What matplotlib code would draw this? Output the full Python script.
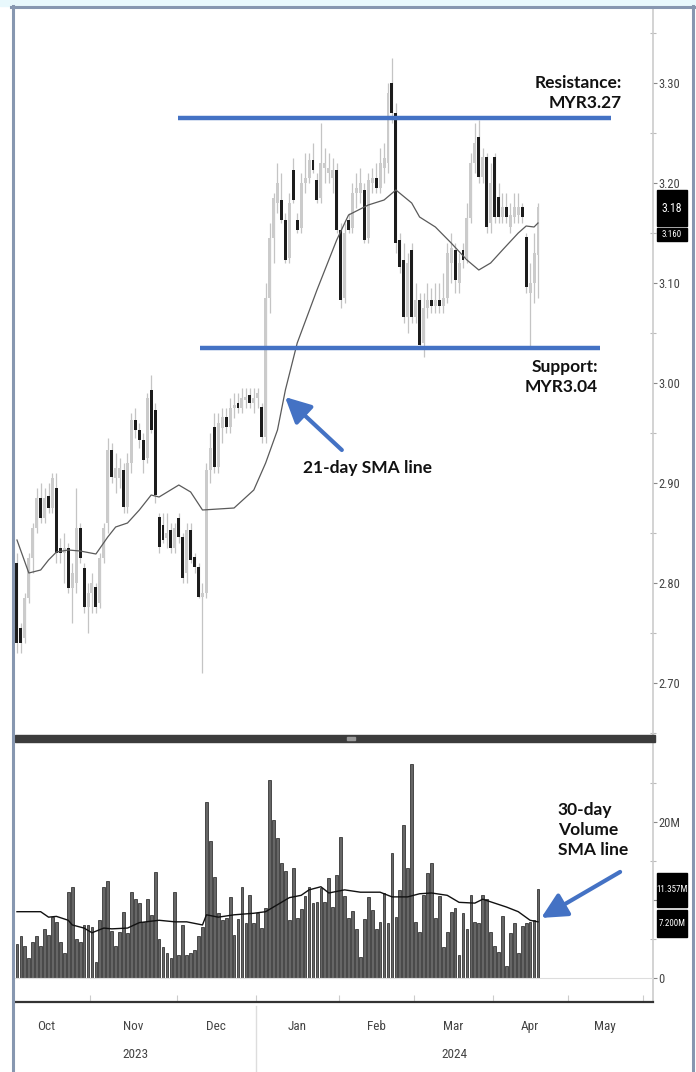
import matplotlib
matplotlib.use('Agg')
import matplotlib.pyplot as plt
from matplotlib import font_manager, transforms
from matplotlib.patches import Rectangle
from matplotlib.lines import Line2D
import numpy as np

# ---------------- data ----------------
opens = [2.82, 2.755, 2.745, 2.785, 2.825, 2.855, 2.885, 2.865, 2.887, 2.875,
         2.895, 2.835, 2.83, 2.835, 2.795, 2.80, 2.855, 2.815, 2.776, 2.79,
         2.796, 2.78, 2.825, 2.86, 2.933, 2.905, 2.905, 2.913, 2.876, 2.92,
         2.963, 2.953, 2.943, 2.925, 2.993, 2.973, 2.866, 2.858, 2.845, 2.853,
         2.835, 2.865, 2.846, 2.81, 2.853, 2.826, 2.816, 2.786, 2.79, 2.913,
         2.956, 2.916, 2.955, 2.966, 2.956, 2.975, 2.98, 2.975, 2.983, 2.988,
         2.98, 2.985, 2.976, 2.946, 3.085, 3.145, 3.18, 3.183, 3.163, 3.125,
         3.213, 3.163, 3.155, 3.20, 3.205, 3.223, 3.203, 3.185, 3.215, 3.21,
         3.205, 3.213, 3.153, 3.085, 3.163, 3.155, 3.19, 3.19, 3.193, 3.145,
         3.20, 3.205, 3.195, 3.215, 3.22, 3.30, 3.27, 3.143, 3.123, 3.066,
         3.133, 3.066, 3.083, 3.04, 3.075, 3.083, 3.077, 3.083, 3.077, 3.085,
         3.12, 3.133, 3.10, 3.133, 3.125, 3.165, 3.22, 3.246, 3.206, 3.226,
         3.16, 3.226, 3.186, 3.166, 3.176, 3.156, 3.166, 3.168, 3.176, 3.146,
         3.09, 3.10, 3.128]
highs = [2.83, 2.76, 2.79, 2.83, 2.86, 2.895, 2.90, 2.895, 2.90, 2.91,
         2.91, 2.845, 2.85, 2.84, 2.82, 2.895, 2.86, 2.82, 2.80, 2.81,
         2.80, 2.83, 2.86, 2.945, 2.94, 2.93, 2.925, 2.92, 2.93, 2.97,
         2.975, 2.96, 2.95, 2.99, 3.008, 2.98, 2.87, 2.87, 2.87, 2.86,
         2.86, 2.87, 2.85, 2.86, 2.86, 2.83, 2.82, 2.80, 2.92, 2.95,
         2.97, 2.97, 2.975, 2.975, 2.985, 2.99, 2.99, 2.995, 2.995, 2.995,
         2.995, 2.995, 2.98, 3.10, 3.16, 3.19, 3.22, 3.21, 3.17, 3.19,
         3.225, 3.17, 3.21, 3.23, 3.23, 3.24, 3.21, 3.26, 3.235, 3.23,
         3.225, 3.22, 3.16, 3.16, 3.17, 3.20, 3.21, 3.215, 3.20, 3.21,
         3.215, 3.22, 3.235, 3.24, 3.30, 3.325, 3.28, 3.15, 3.14, 3.13,
         3.14, 3.10, 3.09, 3.09, 3.10, 3.095, 3.10, 3.10, 3.11, 3.14,
         3.15, 3.14, 3.13, 3.14, 3.18, 3.23, 3.26, 3.263, 3.235, 3.23,
         3.22, 3.23, 3.20, 3.19, 3.19, 3.18, 3.19, 3.19, 3.18, 3.15,
         3.12, 3.15, 3.18]
lows = [2.73, 2.73, 2.74, 2.78, 2.81, 2.85, 2.86, 2.86, 2.87, 2.87,
        2.82, 2.82, 2.80, 2.79, 2.76, 2.79, 2.82, 2.77, 2.75, 2.77,
        2.77, 2.775, 2.82, 2.85, 2.90, 2.89, 2.895, 2.87, 2.87, 2.91,
        2.945, 2.935, 2.91, 2.92, 2.95, 2.88, 2.83, 2.84, 2.835, 2.83,
        2.83, 2.84, 2.80, 2.80, 2.82, 2.81, 2.785, 2.71, 2.785, 2.90,
        2.91, 2.91, 2.94, 2.95, 2.95, 2.965, 2.97, 2.97, 2.975, 2.975,
        2.97, 2.975, 2.94, 2.94, 3.07, 3.12, 3.17, 3.16, 3.12, 3.12,
        3.18, 3.15, 3.15, 3.19, 3.20, 3.21, 3.18, 3.18, 3.20, 3.20,
        3.19, 3.15, 3.075, 3.08, 3.15, 3.15, 3.175, 3.18, 3.14, 3.14,
        3.19, 3.19, 3.19, 3.20, 3.21, 3.26, 3.13, 3.11, 3.06, 3.05,
        3.06, 3.06, 3.035, 3.026, 3.065, 3.07, 3.07, 3.07, 3.07, 3.08,
        3.10, 3.09, 3.09, 3.115, 3.12, 3.16, 3.21, 3.20, 3.20, 3.15,
        3.15, 3.16, 3.16, 3.16, 3.16, 3.15, 3.16, 3.16, 3.16, 3.09,
        3.035, 3.08, 3.085]
closes = [2.74, 2.74, 2.785, 2.825, 2.855, 2.885, 2.865, 2.885, 2.875, 2.905,
          2.83, 2.83, 2.835, 2.795, 2.81, 2.855, 2.825, 2.776, 2.79, 2.80,
          2.776, 2.825, 2.855, 2.933, 2.906, 2.915, 2.915, 2.876, 2.92, 2.963,
          2.953, 2.943, 2.923, 2.985, 2.953, 2.888, 2.836, 2.843, 2.85, 2.835,
          2.855, 2.846, 2.805, 2.853, 2.823, 2.816, 2.786, 2.79, 2.913, 2.935,
          2.916, 2.96, 2.966, 2.956, 2.975, 2.978, 2.975, 2.985, 2.986, 2.98,
          2.985, 2.99, 2.946, 3.085, 3.145, 3.185, 3.20, 3.163, 3.123, 3.18,
          3.183, 3.153, 3.20, 3.205, 3.223, 3.213, 3.183, 3.22, 3.22, 3.215,
          3.213, 3.153, 3.083, 3.15, 3.153, 3.19, 3.195, 3.20, 3.143, 3.203,
          3.205, 3.195, 3.22, 3.225, 3.29, 3.27, 3.14, 3.116, 3.066, 3.12,
          3.066, 3.083, 3.038, 3.075, 3.083, 3.077, 3.083, 3.077, 3.085, 3.13,
          3.135, 3.103, 3.12, 3.123, 3.165, 3.22, 3.24, 3.206, 3.226, 3.156,
          3.20, 3.166, 3.166, 3.176, 3.166, 3.168, 3.176, 3.176, 3.166, 3.096,
          3.10, 3.13, 3.176]
volumes_m = [4.4, 5.4, 4.1, 2.6, 4.6, 5.4, 4.1, 6.3, 5.5, 7.8,
             7.2, 4.6, 3.2, 11.0, 11.7, 5.0, 4.6, 6.8, 6.8, 6.5,
             2.1, 7.4, 11.7, 12.4, 6.0, 4.1, 5.9, 8.5, 5.8, 11.0,
             10.1, 9.6, 7.2, 10.1, 8.1, 13.6, 5.0, 4.0, 3.2, 2.6,
             11.0, 2.9, 6.8, 2.9, 3.2, 3.6, 5.4, 6.5, 22.6, 17.6,
             12.9, 8.3, 7.4, 7.7, 10.4, 5.5, 7.6, 11.7, 7.1, 10.6,
             7.1, 8.3, 6.4, 9.0, 25.4, 20.3, 17.9, 14.7, 13.7, 7.4,
             14.1, 7.7, 8.8, 10.5, 11.7, 9.6, 9.7, 11.5, 9.7, 12.8,
             9.1, 13.2, 18.1, 10.5, 7.7, 8.6, 6.3, 2.7, 7.6, 10.4,
             8.7, 6.3, 7.2, 10.9, 7.1, 16.0, 7.8, 11.3, 19.6, 14.1,
             27.4, 7.2, 5.9, 10.6, 13.5, 14.7, 7.7, 10.5, 4.0, 5.9,
             8.5, 9.0, 2.9, 8.3, 6.3, 10.6, 7.2, 7.1, 10.6, 10.1,
             5.9, 4.1, 3.3, 7.9, 1.5, 5.8, 7.1, 3.2, 6.7, 7.1,
             7.2, 7.4, 11.357]
sma21_idx = [0, 3, 6, 8, 10, 13, 16, 20, 23, 25, 28, 31, 34, 36, 41, 44, 47, 55,
             60, 63, 66, 68, 71, 76, 81, 84, 89, 93, 96, 100, 102, 106, 110, 114,
             117, 120, 123, 127, 129, 131, 132]
sma21_val = [2.843, 2.81, 2.813, 2.823, 2.831, 2.833, 2.832, 2.829, 2.846, 2.856,
             2.86, 2.873, 2.888, 2.886, 2.898, 2.891, 2.873, 2.875, 2.893, 2.92,
             2.953, 2.993, 3.04, 3.093, 3.143, 3.168, 3.178, 3.183, 3.193, 3.18,
             3.166, 3.156, 3.14, 3.123, 3.113, 3.12, 3.133, 3.15, 3.157, 3.156, 3.16]
vsma30_idx = [0, 6, 8, 10, 13, 14, 17, 19, 22, 24, 28, 31, 36, 40, 43, 47, 48, 51,
              55, 60, 63, 66, 69, 72, 74, 77, 79, 83, 87, 92, 95, 99, 102, 105,
              109, 112, 116, 118, 121, 124, 127, 130, 132]
vsma30_val = [8.5, 8.5, 7.8, 7.9, 7.4, 6.8, 6.4, 5.8, 6.4, 6.3, 6.4, 7.1, 7.4, 7.2,
              7.2, 6.8, 8.1, 7.8, 8.1, 8.3, 8.5, 9.4, 10.3, 10.6, 11.3, 11.7, 10.9,
              11.3, 11.0, 11.0, 10.4, 10.4, 10.8, 10.9, 10.6, 9.7, 9.6, 10.1, 9.6,
              9.1, 8.5, 7.4, 7.2]
price_ticks = [2.70, 2.80, 2.90, 3.00, 3.10, 3.20, 3.30]
volume_ticks = [0, 10, 20]
volume_tick_labels = ['0', '10M', '20M']
month_labels = ['Oct', 'Nov', 'Dec', 'Jan', 'Feb', 'Mar', 'Apr', 'May']
month_first_idx = [-3, 19, 41, 61, 82, 101, 121, 140, 159]  # first trading day of Oct .. Jun
year_labels = ['2023', '2024']
resistance_level = 3.265
support_level = 3.035
resistance_text = 'Resistance:\nMYR3.27'
support_text = 'Support:\nMYR3.04'

# ---------------- fonts ----------------
entries = font_manager.fontManager.ttflist
names = {f.name for f in entries}
narrow_kw = {'fontfamily': 'DejaVu Sans'}
for cand in ('Liberation Sans Narrow', 'Roboto Condensed', 'Open Sans Condensed',
             'DejaVu Sans Condensed'):
    if cand in names:
        narrow_kw = {'fontfamily': cand}
        break
else:
    if any(f.name == 'DejaVu Sans' and f.stretch == 'condensed' for f in entries):
        narrow_kw = {'fontfamily': 'DejaVu Sans', 'fontstretch': 'condensed'}
    elif any(f.name == 'Roboto' and f.stretch == 'condensed' for f in entries):
        narrow_kw = {'fontfamily': 'Roboto', 'fontstretch': 'condensed'}
bold_font = 'Lato' if 'Lato' in names else 'DejaVu Sans'

W, H = 696, 1072
fig = plt.figure(figsize=(W / 100, H / 100), dpi=100)
fig.patch.set_facecolor('white')


def fx(x):
    return x / W


def fy(y):
    return 1 - y / H


L, R = 15, 653
BLUE = '#4472c4'
LABEL = '#444444'

ax1 = fig.add_axes([fx(L), fy(735), (R - L) / W, (735 - 8) / H])
ax2 = fig.add_axes([fx(L), fy(1002), (R - L) / W, (1002 - 742) / H])
xmax = (R - 17) / 3.947
for ax in (ax1, ax2):
    ax.set_xlim(-0.5, xmax)
    ax.set_facecolor('white')
ax1.set_ylim(2.648, 3.375)
ax2.set_ylim(-3.08, 30.26)

# ---------------- candles ----------------
idx = np.arange(len(closes))
o = np.array(opens)
c = np.array(closes)
up = c >= o
ax1.vlines(idx, lows, highs, color='#c4c4c4', lw=0.9, zorder=1)
hgt = np.maximum(np.abs(c - o), 0.003)
ax1.bar(idx[up], hgt[up], bottom=o[up], width=0.75, color='#cbcbcb', zorder=2)
ax1.bar(idx[~up], hgt[~up], bottom=c[~up], width=0.75, color='#1c1c1c', zorder=3)
ax1.plot(sma21_idx, sma21_val, color='#5a5a5a', lw=0.9, zorder=4)

ax1.hlines(resistance_level, 40.8, 150.5, color=BLUE, lw=3.2, zorder=5)
ax1.hlines(support_level, 46.4, 147.7, color=BLUE, lw=3.2, zorder=5)

for s in ('left', 'top', 'bottom'):
    ax1.spines[s].set_visible(False)
ax1.spines['right'].set_color('#cccccc')
ax1.spines['right'].set_linewidth(1.2)
ax1.yaxis.tick_right()
ax1.set_yticks(price_ticks)
ax1.set_yticklabels([f'{t:.2f}' for t in price_ticks], **narrow_kw)
ax1.set_yticks([t + 0.05 for t in price_ticks[:-1]] + [3.35, 2.65], minor=True)
ax1.tick_params(axis='y', which='major', length=3, width=0.8, color='#888888',
                labelsize=9, labelcolor=LABEL, pad=1)
ax1.tick_params(axis='y', which='minor', length=4, width=0.8, color='#bbbbbb',
                direction='inout')
ax1.set_xticks([])

# annotations in price panel
ax1.text(153.3, 3.29, resistance_text, ha='right', va='center', fontsize=12.5,
         fontweight='bold', fontfamily=bold_font, color='#111111', linespacing=1.25)
ax1.text(147.2, 3.006, support_text, ha='right', va='center', fontsize=12.5,
         fontweight='bold', fontfamily=bold_font, color='#111111', linespacing=1.25)
ax1.text(88.9, 2.915, '21-day SMA line', ha='center', va='center', fontsize=12.5,
         fontweight='bold', fontfamily=bold_font, color='#111111')
ax1.annotate('', xy=(67.9, 2.986), xytext=(82.3, 2.933),
             arrowprops=dict(arrowstyle='-|>,head_length=0.7,head_width=0.35',
                             color=BLUE, lw=3, mutation_scale=22, shrinkA=0, shrinkB=0),
             zorder=6)

# ---------------- volume ----------------
ax2.bar(idx, volumes_m, width=0.7, color='#666666', edgecolor='#1e1e1e', lw=0.5, zorder=2)
ax2.axhline(0, color='#dddddd', lw=0.8, zorder=3)
ax2.plot(vsma30_idx, vsma30_val, color='#111111', lw=1.0, zorder=4)
for s in ('left', 'top'):
    ax2.spines[s].set_visible(False)
ax2.spines['right'].set_color('#cccccc')
ax2.spines['right'].set_linewidth(1.2)
ax2.spines['bottom'].set_color('#333333')
ax2.spines['bottom'].set_linewidth(1.6)
ax2.yaxis.tick_right()
ax2.set_yticks(volume_ticks)
ax2.set_yticklabels(volume_tick_labels, **narrow_kw)
ax2.set_yticks([5, 15, 25], minor=True)
ax2.tick_params(axis='y', which='major', length=3, width=0.8, color='#888888',
                labelsize=9, labelcolor=LABEL, pad=1)
ax2.tick_params(axis='y', which='minor', length=4, width=0.8, color='#bbbbbb',
                direction='inout')

bounds = [m - 0.5 for m in month_first_idx]
centers = [(bounds[k] + bounds[k + 1]) / 2 for k in range(len(month_labels))]
ax2.set_xticks(centers)
ax2.set_xticklabels(month_labels, **narrow_kw)
ax2.tick_params(axis='x', which='major', length=0, labelsize=9.5, labelcolor=LABEL, pad=13)
ax2.set_xticks([b for b in bounds if -0.5 < b < xmax], minor=True)
ax2.tick_params(axis='x', which='minor', length=5, width=0.8, color='#cccccc', direction='in')

ax2.text(137.0, 19.0, '30-day\nVolume\nSMA line', ha='left', va='center', fontsize=12.5,
         fontweight='bold', fontfamily=bold_font, color='#111111', linespacing=1.3)
ax2.annotate('', xy=(132.8, 7.7), xytext=(152.8, 13.6),
             arrowprops=dict(arrowstyle='-|>,head_length=0.7,head_width=0.35',
                             color=BLUE, lw=3, mutation_scale=22, shrinkA=0, shrinkB=0),
             zorder=6)

# year labels and separator
bt = transforms.blended_transform_factory(ax2.transData, fig.transFigure)
year_bounds = [-0.5, bounds[3], xmax]
for k, yl in enumerate(year_labels):
    ax2.text((year_bounds[k] + year_bounds[k + 1]) / 2, fy(1055), yl, transform=bt,
             ha='center', va='center', fontsize=9.5, color=LABEL, **narrow_kw)
ax2.add_line(Line2D([bounds[3], bounds[3]], [fy(1006), 0], transform=bt, color='#dddddd',
                    lw=1, clip_on=False))

# ---------------- value boxes on the right ----------------
def box(y0, y1, text, size):
    fig.add_artist(Rectangle((fx(657), fy(y1)), 30 / W, (y1 - y0) / H,
                             transform=fig.transFigure, color='black', zorder=10))
    fig.text(fx(672), fy((y0 + y1) / 2), text, ha='center', va='center', color='white',
             fontsize=size, zorder=11, **narrow_kw)


box(190, 226, f'{closes[-1]:.2f}', 8.5)
box(228, 241, f'{sma21_val[-1]:.3f}', 6.5)
box(873, 907, f'{volumes_m[-1]:.3f}M', 6.5)
box(910, 937, f'{vsma30_val[-1]:.3f}M', 6.5)

# ---------------- panel separator and frame ----------------
fig.add_artist(Rectangle((fx(15), fy(742)), (655 - 15) / W, 7 / H, transform=fig.transFigure,
                         color='#3c3c3c', zorder=9))
fig.add_artist(Rectangle((fx(347), fy(740)), 8 / W, 3 / H, transform=fig.transFigure,
                         color='#9a9a9a', zorder=10))
fig.add_artist(Rectangle((0, fy(6)), 1, 6 / H, transform=fig.transFigure,
                         color='#e8f8fc', zorder=9))
FRAME = '#8797b0'
fig.add_artist(Line2D([fx(11), fx(694)], [fy(6.5), fy(6.5)], color=FRAME, lw=2.2, zorder=10))
fig.add_artist(Line2D([fx(12.5), fx(12.5)], [fy(5.5), 0], color=FRAME, lw=2.2, zorder=10))
fig.add_artist(Line2D([fx(692.5), fx(692.5)], [fy(5.5), 0], color=FRAME, lw=2.2, zorder=10))

fig.savefig('out.png', dpi=100)
